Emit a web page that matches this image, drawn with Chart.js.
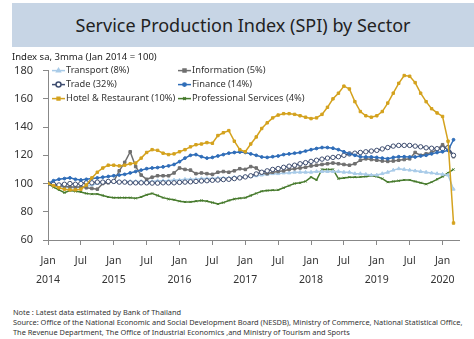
<!DOCTYPE html>
<html>
<head>
<meta charset="utf-8">
<script src="https://cdn.jsdelivr.net/npm/chart.js@4.4.1/dist/chart.umd.min.js"></script>
<style>
  body { margin: 0; background: #fff; font-family: "Noto Sans", sans-serif; }
  #wrap { position: relative; width: 474px; height: 339px; overflow: hidden; }
  #banner { position: absolute; left: 12px; top: 3px; width: 462px; height: 44px; background: #c7d5e5;
            font-size: 18px; color: #222; text-align: center; line-height: 44px; }
  #sub { position: absolute; left: 12px; top: 50px; font-size: 9.5px; color: #222; }
  #chart { position: absolute; left: 0; top: 54px; }
  #notes { position: absolute; left: 13px; top: 307px; font-size: 7.4px; line-height: 10px; color: #333; white-space: nowrap; }
</style>
</head>
<body>
<div id="wrap">
  <div id="banner">Service Production Index (SPI) by Sector</div>
  <canvas id="chart" width="474" height="241"></canvas>
  <div id="sub">Index sa, 3mma (Jan 2014 = 100)</div>
  <div id="notes">
    Note : Latest data estimated by Bank of Thailand<br>
    Source: Office of the National Economic and Social Development Board (NESDB), Ministry of Commerce, National Statistical Office,<br>
    The Revenue Department, The Office of Industrial Economics ,and Ministry of Tourism and Sports
  </div>
</div>
<script>
// monthly, Jan 2014 .. Mar 2020
const firstYear = 2014;
const monthCount = 75;
const xTickMonths = [0, 6, 12, 18, 24, 30, 36, 42, 48, 54, 60, 66, 72];
const yTicks = [60, 80, 100, 120, 140, 160, 180];

const transport = [100, 99, 98, 97.5, 97, 97, 97.5, 98, 99, 100, 100.5, 101,
  101, 101, 101.5, 101.5, 101.5, 101.5, 101.5, 101.5, 102, 102, 102, 102.5,
  102.5, 103, 103, 103, 103.5, 103.5, 103.5, 104, 104, 104, 104.5, 104.5,
  105, 105, 105.5, 106, 106.5, 107, 107, 107.5, 107.5, 108, 108, 108,
  108, 108.5, 108.5, 108.5, 108.5, 108.5, 108, 108, 107, 107, 106.5, 106,
  106, 107, 108, 109.5, 110.5, 110, 109.5, 109, 108.5, 108, 107.5, 107, 106.5, 106, 96];

const information = [100, 99, 98.5, 98, 97.5, 97.5, 97.5, 97, 96.5, 96, 100, 100.5,
  101.5, 109, 115, 122.5, 112, 106, 103, 104.5, 105.5, 105.5, 105.5, 107.5,
  111, 110, 109.5, 107, 107.5, 107, 106.5, 108, 108.5, 108, 109, 110.5,
  110, 112, 111, 107.5, 107, 108, 108.5, 109, 110, 110.5, 111, 111.5,
  112.5, 113, 113.5, 114, 114.5, 114, 113.5, 113, 114, 116.5, 117.5, 117,
  116.5, 116, 115.7, 116, 116.5, 117, 117.5, 122, 120, 121, 122, 124, 127.5, 124, 119];

const trade = [100, 99.5, 99, 99.5, 100, 99.5, 100, 100.5, 100.5, 101, 101, 101.5,
  101.5, 101, 101, 100.5, 100.5, 100.5, 100.5, 100.3, 100.3, 100.5, 100.5, 100.5,
  100.8, 101, 101.2, 101.5, 101.8, 102, 102.3, 102.5, 102.8, 103, 103.5, 104,
  104.7, 105.5, 106.8, 108, 109, 110, 110.6, 111.5, 112.3, 113, 114, 114.8,
  115.7, 116.5, 117.3, 118, 118.5, 119, 120, 121, 121.5, 122, 122.5, 123,
  123.5, 124.5, 125.5, 126.5, 127, 127, 127, 126.5, 126, 125.3, 125, 124.7, 124.7, 125.5, 120];

const finance = [100, 102, 103, 103.5, 104, 103, 102.5, 103, 103.5, 104, 104.5, 105,
  105.5, 106, 106.5, 107.5, 108.5, 109.5, 110.5, 111, 111.3, 111.8, 112.5, 113.5,
  115.5, 118, 120, 120.5, 119, 118, 118.5, 119.5, 120.5, 121.5, 122, 122.3,
  122, 121, 120, 118.8, 118.5, 119, 119.5, 120.5, 121, 121.5, 122, 123,
  124, 124.8, 125.5, 125.5, 125, 124, 122.5, 121, 120, 119, 118.8, 118.8,
  118.5, 118, 117.6, 118.5, 119, 119, 118.8, 118.8, 119.5, 120, 121, 122, 122.5, 123.5, 131];

const hotel = [100, 98.5, 97, 96, 95.5, 95.5, 96, 99, 104, 108, 111, 113,
  113, 112.5, 113, 114, 114.5, 118, 122, 124, 123.5, 121.5, 120.5, 121,
  122.5, 124, 126, 127.5, 128, 129, 128.5, 134, 136, 137.5, 130, 124,
  122.5, 128, 133, 139, 143, 146.5, 148.5, 149.5, 149.5, 149, 148, 147,
  146, 146.5, 149, 154, 160, 164, 169, 167, 158, 151, 148, 147,
  148, 151, 157, 164, 171, 176.5, 176, 171.5, 164, 158, 153, 150, 147.5, 130, 72];

const professional = [100, 97.5, 95.5, 93.5, 95, 94.5, 94, 93, 92.5, 92.5, 91.5, 90.5,
  90, 90, 90, 90, 89.5, 90.5, 92, 93, 91.5, 90, 89, 88.5,
  87.5, 87, 87, 87.5, 88, 87.5, 86.5, 85.5, 86.5, 88, 89, 89.5,
  90, 91.5, 93, 94.5, 95, 95.3, 95.5, 97, 98.5, 100, 100.5, 101.5,
  104.5, 102.5, 110, 110, 110, 103.5, 104, 104.5, 104.5, 104.7, 105, 105.5,
  105, 103.5, 101, 101.5, 102, 102.5, 102.5, 101.5, 100.5, 99.5, 101, 103, 105, 107.5, 110];

const sectorNames = ['Transport (8%)', 'Information (5%)', 'Trade (32%)',
  'Finance (14%)', 'Hotel & Restaurant (10%)', 'Professional Services (4%)'];

function toPoints(arr) {
  return arr.map((v, i) => ({ x: i, y: v }));
}

const datasets = [
  { label: sectorNames[4], data: toPoints(hotel), borderColor: '#d4a21e', backgroundColor: '#d4a21e',
    pointStyle: 'rect', pointRadius: 1.7 },
  { label: sectorNames[3], data: toPoints(finance), borderColor: '#2f6db8', backgroundColor: '#2f6db8',
    pointStyle: 'circle', pointRadius: 1.4 },
  { label: sectorNames[2], data: toPoints(trade), borderColor: '#3f4e70', backgroundColor: '#ffffff',
    pointStyle: 'circle', pointRadius: 2.2, pointBorderWidth: 1 },
  { label: sectorNames[1], data: toPoints(information), borderColor: '#707070', backgroundColor: '#707070',
    pointStyle: 'rect', pointRadius: 1.8 },
  { label: sectorNames[0], data: toPoints(transport), borderColor: '#a9cbe8', backgroundColor: '#a9cbe8',
    pointStyle: 'triangle', pointRadius: 1.9 },
  { label: sectorNames[5], data: toPoints(professional), borderColor: '#467a2c', backgroundColor: '#467a2c',
    pointStyle: 'crossRot', pointRadius: 1.5 }
];
datasets.forEach(d => { d.borderWidth = 1.5; d.tension = 0; if (!d.pointBorderWidth) d.pointBorderWidth = 1; });

// legend drawn inside the plot, 3 rows x 2 columns like the original
const legendOrder = sectorNames;
const gridLegend = {
  id: 'gridLegend',
  afterDraw(chart) {
    const ctx = chart.ctx;
    ctx.save();
    ctx.font = '9.3px "Noto Sans", sans-serif';
    ctx.textBaseline = 'middle';
    legendOrder.forEach((name, k) => {
      const ds = chart.data.datasets.find(d => d.label === name);
      const col = k % 2, row = Math.floor(k / 2);
      const x0 = col === 0 ? 52 : 178;
      const y = chart.chartArea.top + row * 14;
      ctx.strokeStyle = ds.borderColor;
      ctx.lineWidth = 1.5;
      ctx.beginPath(); ctx.moveTo(x0, y); ctx.lineTo(x0 + 13, y); ctx.stroke();
      ctx.fillStyle = ds.backgroundColor;
      Chart.helpers.drawPoint(ctx, { pointStyle: ds.pointStyle, radius: ds.pointRadius + 0.3, borderWidth: 1, rotation: 0 }, x0 + 6.5, y);
      ctx.fillStyle = '#333';
      ctx.fillText(name, x0 + 14, y);
    });
    ctx.restore();
  }
};

new Chart(document.getElementById('chart').getContext('2d'), {
  type: 'line',
  data: { datasets: datasets },
  plugins: [gridLegend],
  options: {
    responsive: false,
    animation: false,
    devicePixelRatio: 1,
    layout: { padding: { top: 4, right: 15, left: 0, bottom: 0 } },
    plugins: { legend: { display: false }, tooltip: { enabled: false } },
    scales: {
      x: {
        type: 'linear', min: 0, max: monthCount,
        afterBuildTicks(scale) { scale.ticks = xTickMonths.map(v => ({ value: v })); },
        afterFit(scale) { scale.height = 55; },
        ticks: {
          autoSkip: false, maxRotation: 0, padding: 6, color: '#333',
          font: { family: '"Noto Sans", sans-serif', size: 10.5, lineHeight: 1.85 },
          callback: v => v % 12 === 0 ? ['Jan', String(firstYear + v / 12)] : 'Jul'
        },
        grid: { drawOnChartArea: false, drawTicks: true, tickLength: 5, color: '#888' },
        border: { display: true, color: '#888', width: 1 }
      },
      y: {
        min: yTicks[0], max: yTicks[yTicks.length - 1],
        afterBuildTicks(scale) { scale.ticks = yTicks.map(v => ({ value: v })); },
        afterFit(scale) { scale.width = 48; },
        ticks: { color: '#333', padding: 10, font: { family: '"Noto Sans", sans-serif', size: 11 } },
        grid: { drawOnChartArea: false, drawTicks: true, tickLength: 5, color: '#888' },
        border: { display: true, color: '#888', width: 1 }
      }
    }
  }
});
</script>
</body>
</html>
